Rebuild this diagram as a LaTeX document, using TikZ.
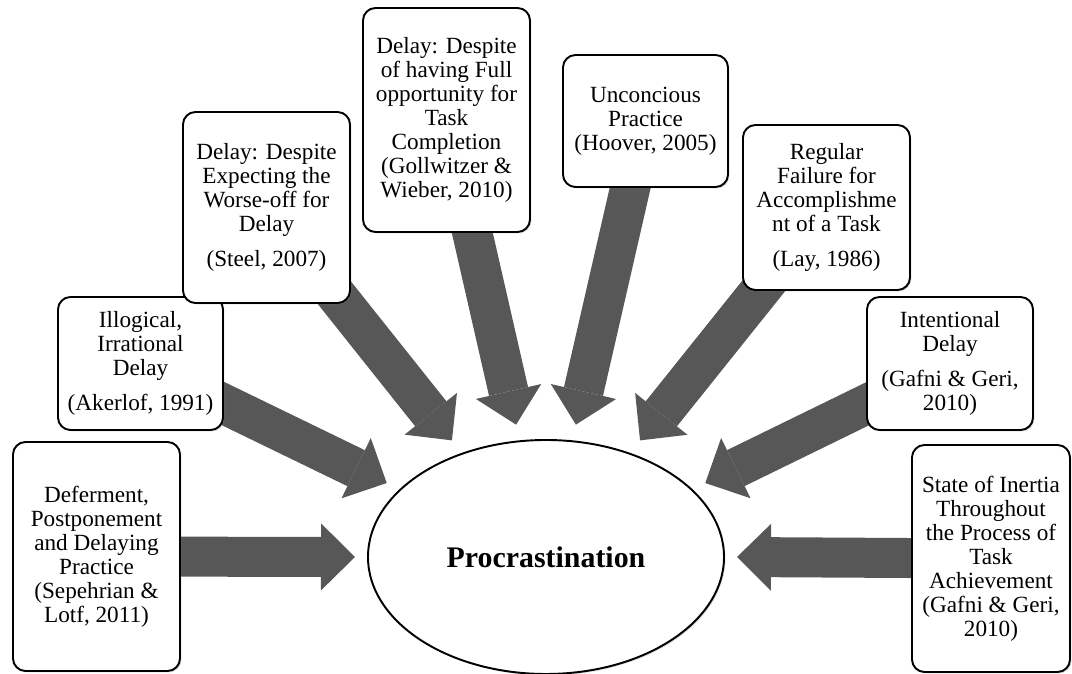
\documentclass[tikz,border=0pt]{standalone}
\usepackage{fontspec}
\setmainfont{Liberation Serif}
\usetikzlibrary{arrows.meta, calc, shapes.geometric, shadows, backgrounds}
\definecolor{arrowgray}{RGB}{87,87,87}

\begin{document}
\begin{tikzpicture}[
  box/.style={draw=black, line width=1.1pt, rounded corners=0.25cm, fill=white,
    align=center, inner sep=2pt, font=\fontsize{13.2}{13.66}\selectfont,
    drop shadow={opacity=0.3, shadow xshift=0.8pt, shadow yshift=-0.8pt}},
  bigarrow/.style={draw=arrowgray, line width=0.8cm,
    -{Triangle[length=0.68cm, width=1.34cm, line width=0pt]}},
]
\useasboundingbox (0, 0) rectangle (21.44, 13.48);

% --- Central ellipse ---
\node[ellipse, draw=black, line width=1.1pt, fill=white, minimum width=7.12cm,
  minimum height=4.68cm, inner sep=0pt,
  drop shadow={opacity=0.3, shadow xshift=0.8pt, shadow yshift=-0.8pt},
  font=\fontsize{17}{20}\selectfont\bfseries] (proc) at (10.92, 2.34) {Procrastination};

% --- Definition boxes ---
\node[box, minimum width=3.34cm, minimum height=4.58cm] (defer) at (1.93, 2.35)
  {Deferment,\\ Postponement\\ and Delaying\\ Practice\\ (Sepehrian \&\\ Lotf, 2011)};
\node[box, minimum width=3.30cm, minimum height=2.66cm] (illog) at (2.81, 6.21)
  {Illogical,\\ Irrational\\ Delay\\[6pt] (Akerlof, 1991)};
\node[box, minimum width=3.34cm, minimum height=3.82cm] (steel) at (5.33, 9.33)
  {Delay: Despite\\ Expecting the\\ Worse-off for\\ Delay\\[6pt] (Steel, 2007)};
\node[box, minimum width=3.34cm, minimum height=4.48cm] (goll) at (8.93, 11.08)
  {Delay: Despite\\ of having Full\\ opportunity for\\ Task\\ Completion\\ (Gollwitzer \&\\ Wieber, 2010)};
\node[box, minimum width=3.30cm, minimum height=2.64cm] (uncon) at (12.91, 11.06)
  {Unconcious\\ Practice\\ (Hoover, 2005)};
\node[box, minimum width=3.34cm, minimum height=3.30cm] (regfail) at (16.53, 9.33)
  {Regular\\ Failure for\\ Accomplishme\\ nt of a Task\\[6pt] (Lay, 1986)};
\node[box, minimum width=3.32cm, minimum height=2.66cm] (intent) at (19.00, 6.21)
  {Intentional\\ Delay\\[6pt] (Gafni \& Geri,\\ 2010)};
\node[box, minimum width=3.16cm, minimum height=4.54cm] (inertia) at (19.82, 2.31)
  {State of Inertia\\ Throughout\\ the Process of\\ Task\\ Achievement\\ (Gafni \& Geri,\\ 2010)};

% --- Arrow tips round the ellipse ---
\coordinate (t1) at ($(proc.center)+(180:3.82 and 2.68)$);
\coordinate (t2) at ($(proc.center)+(146.5:3.82 and 2.68)$);
\coordinate (t3) at ($(proc.center)+(119.5:3.82 and 2.68)$);
\coordinate (t4) at ($(proc.center)+(99:3.82 and 2.68)$);
\coordinate (t5) at ($(proc.center)+(81:3.82 and 2.68)$);
\coordinate (t6) at ($(proc.center)+(60.5:3.82 and 2.68)$);
\coordinate (t7) at ($(proc.center)+(33.5:3.82 and 2.68)$);
\coordinate (t8) at ($(proc.center)+(0:3.82 and 2.68)$);

% --- Block arrows (start hidden behind the boxes) ---
\begin{scope}[on background layer]
\draw[bigarrow] (defer.center) -- (t1);
\draw[bigarrow] (illog.center) -- (t2);
\draw[bigarrow] (steel.center) -- (t3);
\draw[bigarrow] (goll.center) -- (t4);
\draw[bigarrow] (uncon.center) -- (t5);
\draw[bigarrow] (regfail.center) -- (t6);
\draw[bigarrow] (intent.center) -- (t7);
\draw[bigarrow] (inertia.center) -- (t8);
\end{scope}

\end{tikzpicture}
\end{document}
